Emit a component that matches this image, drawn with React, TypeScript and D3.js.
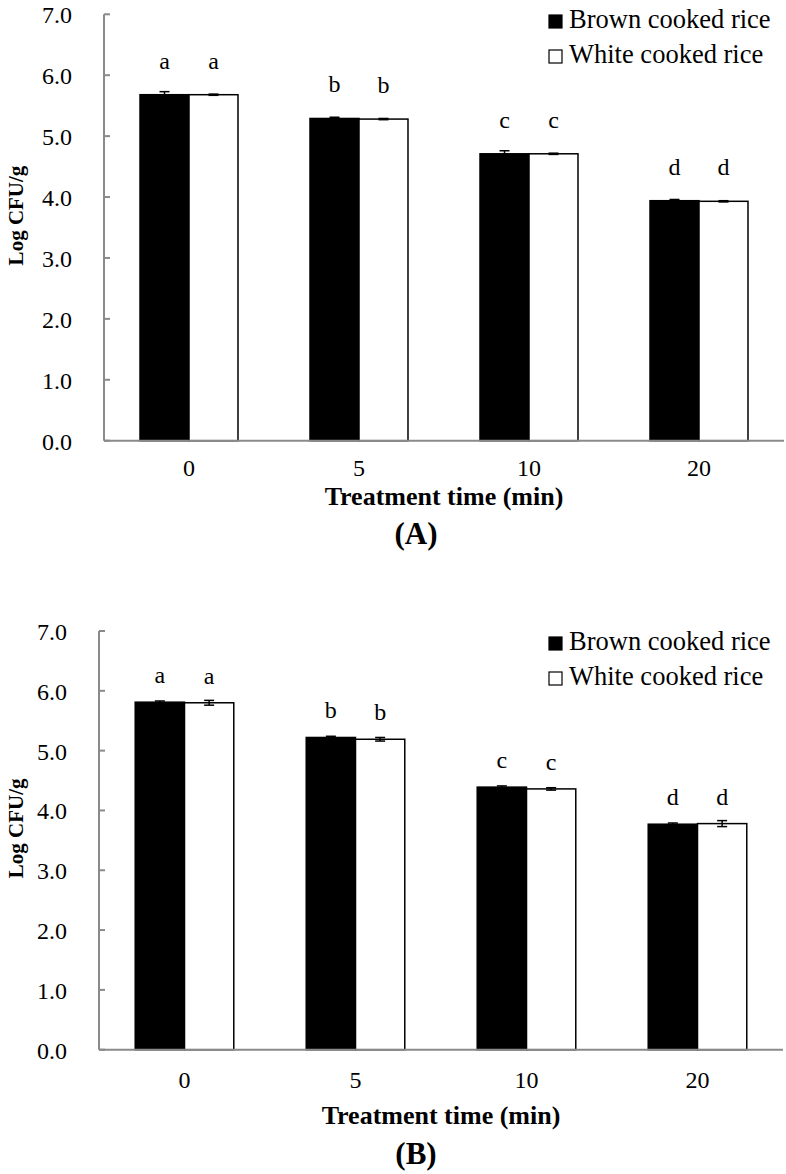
import React from "react";
import * as d3 from "d3";

// data
const times = ["0", "5", "10", "20"];
const seriesNames = ["Brown cooked rice", "White cooked rice"];

const brownA = [5.68, 5.29, 4.71, 3.94];
const brownErrA = [0.05, 0.02, 0.05, 0.02];
const whiteA = [5.68, 5.28, 4.71, 3.93];
const whiteErrA = [0.01, 0.01, 0.01, 0.01];

const brownB = [5.81, 5.22, 4.39, 3.77];
const brownErrB = [0.02, 0.02, 0.02, 0.02];
const whiteB = [5.80, 5.19, 4.36, 3.78];
const whiteErrB = [0.04, 0.03, 0.02, 0.05];

const lettersBrown = ["a", "b", "c", "d"];
const lettersWhite = ["a", "b", "c", "d"];

const yTicks = [0, 1, 2, 3, 4, 5, 6, 7];

const FONT = "'Liberation Serif', 'Times New Roman', serif";
const AXIS = "#8a8a8a";

const Panel = ({ brown, brownErr, white, whiteErr, left, right, top, bottom, letterGap, legendY, titleY, tickY, tagY, tag }) => {
  const x = d3.scaleBand().domain(times).range([left, right]).padding(0);
  const inner = d3.scaleBand().domain(seriesNames).range([0, x.bandwidth()]).paddingOuter(0.735).paddingInner(0);
  const y = d3.scaleLinear().domain([0, 7]).range([bottom, top]);
  const series = [
    { name: seriesNames[0], vals: brown, errs: brownErr, fill: "#000", letters: lettersBrown },
    { name: seriesNames[1], vals: white, errs: whiteErr, fill: "#fff", letters: lettersWhite },
  ];
  const bw = inner.bandwidth();

  return (
    <g>
      {/* bars */}
      {series.map((s) =>
        times.map((t, i) => (
          <rect key={s.name + t} x={x(t) + inner(s.name)} y={y(s.vals[i])}
            width={bw} height={y(0) - y(s.vals[i])}
            fill={s.fill} stroke="#000" strokeWidth={1.5} />
        ))
      )}
      {/* error bars */}
      {series.map((s) =>
        times.map((t, i) => {
          const cx = x(t) + inner(s.name) + bw / 2;
          const hi = y(s.vals[i] + s.errs[i]);
          const lo = y(s.vals[i] - s.errs[i]);
          return (
            <g key={"e" + s.name + t} stroke="#000" strokeWidth={1.5}>
              <line x1={cx} x2={cx} y1={hi} y2={lo} />
              <line x1={cx - 5} x2={cx + 5} y1={hi} y2={hi} />
              <line x1={cx - 5} x2={cx + 5} y1={lo} y2={lo} />
            </g>
          );
        })
      )}
      {/* significance letters */}
      {series.map((s) =>
        times.map((t, i) => (
          <text key={"l" + s.name + t} x={x(t) + inner(s.name) + bw / 2} y={y(s.vals[i]) - letterGap}
            textAnchor="middle" fontSize={24} fontFamily={FONT}>{s.letters[i]}</text>
        ))
      )}
      {/* axes */}
      <line x1={left} x2={left} y1={top} y2={bottom} stroke={AXIS} strokeWidth={2} />
      <line x1={left} x2={right} y1={bottom} y2={bottom} stroke={AXIS} strokeWidth={2} />
      {yTicks.map((v) => (
        <g key={"t" + v}>
          <line x1={left} x2={left + 6} y1={y(v)} y2={y(v)} stroke={AXIS} strokeWidth={2} />
          <text x={left - 32} y={y(v) + 9} textAnchor="end" fontSize={24} fontFamily={FONT}>{v.toFixed(1)}</text>
        </g>
      ))}
      {times.map((t) => (
        <text key={"x" + t} x={x(t) + x.bandwidth() / 2} y={tickY} textAnchor="middle" fontSize={24} fontFamily={FONT}>{t}</text>
      ))}
      <text x={(left + right) / 2} y={titleY} textAnchor="middle" fontSize={26} fontWeight="bold" fontFamily={FONT}>Treatment time (min)</text>
      <text transform={`translate(23,${(top + bottom) / 2 - 12}) rotate(-90)`} textAnchor="middle" fontSize={21} fontWeight="bold" fontFamily={FONT}>Log CFU/g</text>
      <text x={416} y={tagY} textAnchor="middle" fontSize={31} fontWeight="bold" fontFamily={FONT}>{tag}</text>
      {/* legend */}
      {series.map((s, i) => (
        <g key={"lg" + s.name}>
          <rect x={549} y={legendY + i * 35 - 13} width={13} height={13} fill={s.fill} stroke="#000" strokeWidth={1.2} />
          <text x={569} y={legendY + i * 35} fontSize={26.5} fontFamily={FONT}>{s.name}</text>
        </g>
      ))}
    </g>
  );
};

const App = () => (
  <svg width={786} height={1174} viewBox="0 0 786 1174"
    style={{ position: "absolute", left: 0, top: 0, background: "#fff" }}>
    <rect width={786} height={1174} fill="#fff" />
    <Panel brown={brownA} brownErr={brownErrA} white={whiteA} whiteErr={whiteErrA}
      left={104} right={784} top={14.3} bottom={440.7} letterGap={26}
      legendY={28} tickY={476} titleY={505} tagY={544} tag="(A)" />
    <Panel brown={brownB} brownErr={brownErrB} white={whiteB} whiteErr={whiteErrB}
      left={99} right={783} top={631} bottom={1049.7} letterGap={19}
      legendY={650} tickY={1088} titleY={1124} tagY={1164} tag="(B)" />
  </svg>
);

export default App;
